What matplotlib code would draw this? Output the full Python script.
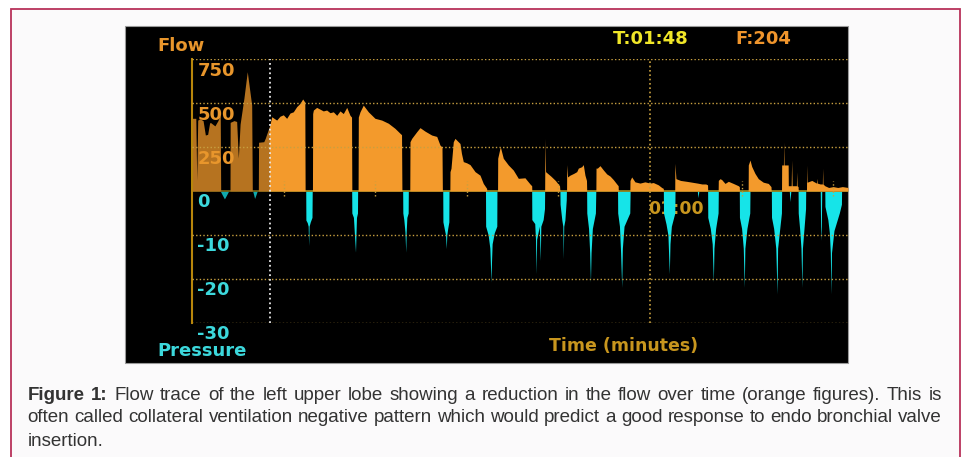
import matplotlib
matplotlib.use('Agg')
import matplotlib.pyplot as plt
from matplotlib.patches import Rectangle
from matplotlib.transforms import offset_copy

# flow trace (time in s, flow in ml/s)
flow_t = [0.0, 0.5, 0.62, 0.75, 1.05, 1.45, 1.75, 2.05, 2.3, 2.4, 3.0, 3.4, 3.7, 3.76,
          4.98, 5.0, 5.5, 5.85, 6.07, 6.3, 6.8, 7.24, 7.6, 7.82, 7.9,
          8.69, 8.72, 9.4, 9.6, 10.2, 10.44, 11.09, 11.53, 11.96, 12.4, 12.84, 13.27, 13.71, 14.15, 14.5, 14.78, 14.82,
          15.78, 15.81, 15.9, 16.33, 16.77, 17.2, 17.64, 18.08, 18.51, 18.96, 19.39, 19.82, 20.27, 20.7, 20.9, 20.94,
          21.76, 21.79, 22.01, 22.44, 23.1, 23.97, 24.85, 25.72, 26.59, 27.25, 27.45, 27.5,
          28.53, 28.56, 28.78, 29.44, 29.87, 30.53, 31.4, 32.06, 32.49, 32.75, 32.8,
          33.78, 33.8, 33.93, 34.23, 34.45, 35.11, 35.3, 35.54, 35.99, 36.42, 37.08, 37.73, 38.16, 38.6, 38.62,
          40.03, 40.05, 40.39, 40.78, 41.44, 42.09, 42.75, 43.62, 44.28, 44.5, 44.52,
          46.2, 46.24, 46.32, 47.0, 47.6, 48.15, 48.2,
          49.07, 49.09, 49.2, 49.52, 50.0, 50.4, 50.61, 51.05, 51.26, 51.48, 51.68, 51.71,
          52.91, 52.93, 53.1, 53.45, 53.88, 54.33, 54.76, 55.19, 55.64, 55.83, 55.85,
          57.36, 57.38, 57.6, 58.03, 58.69, 59.34, 60.0, 60.43, 61.09, 61.53, 61.74, 61.76,
          63.24, 63.26, 63.4, 64.0, 64.8, 65.5, 66.2, 66.8, 67.3, 67.54, 67.56,
          68.93, 68.95, 69.17, 69.39, 69.83, 70.26, 70.91, 71.57, 71.7, 71.72,
          72.86, 72.88, 73.1, 73.32, 73.75, 74.19, 74.84, 75.5, 75.85, 75.88,
          77.23, 77.25, 77.48, 77.52, 77.56, 78.1, 78.12, 78.5, 78.56, 78.62, 79.18, 79.22, 79.27, 79.4, 79.43,
          80.5, 80.53, 80.58, 81.2, 81.8, 81.84, 81.9, 82.3, 82.58, 82.62, 82.66, 82.9, 83.4, 84.0, 84.6, 85.2, 85.94]
flow_v = [413, 413, 62, 403, 410, 400, 318, 322, 385, 390, 370, 400, 432, 0,
          0, 390, 400, 395, 187, 380, 527, 678, 560, 488, 0,
          0, 277, 280, 300, 375, 422, 403, 425, 433, 413, 443, 450, 479, 498, 523, 505, 0,
          0, 440, 460, 475, 465, 455, 460, 445, 450, 430, 455, 440, 475, 430, 420, 0,
          0, 420, 450, 488, 450, 413, 403, 385, 356, 328, 320, 0,
          0, 280, 299, 337, 360, 340, 318, 310, 261, 250, 0,
          0, 110, 129, 280, 299, 270, 214, 167, 160, 150, 110, 90, 43, 15, 0,
          0, 186, 252, 186, 148, 119, 72, 75, 40, 30, 0,
          0, 299, 110, 85, 60, 30, 0,
          0, 150, 80, 90, 100, 110, 130, 138, 150, 90, 60, 0,
          0, 130, 130, 144, 120, 97, 85, 65, 40, 30, 0,
          0, 60, 80, 52, 45, 52, 45, 48, 35, 20, 15, 0,
          0, 157, 70, 60, 55, 50, 45, 40, 40, 35, 0,
          0, 60, 70, 65, 43, 55, 43, 30, 25, 0,
          0, 148, 176, 140, 100, 70, 50, 43, 25, 0,
          0, 148, 148, 280, 148, 148, 30, 30, 176, 30, 30, 110, 30, 25, 0,
          0, 148, 50, 60, 45, 72, 45, 40, 40, 130, 40, 30, 20, 25, 20, 25, 20]

# airway pressure (cmH2O)
pres_t = [0.0,
          3.7, 4.0, 4.25, 4.5, 4.8,
          7.95, 8.1, 8.2, 8.35, 8.55,
          14.9, 14.92, 15.1, 15.22, 15.28, 15.34, 15.5, 15.72, 15.75,
          20.92, 20.94, 21.15, 21.3, 21.42, 21.48, 21.55, 21.68, 21.7,
          27.6, 27.62, 27.75, 27.9, 28.0, 28.06, 28.15, 28.32, 28.34,
          32.85, 32.87, 33.1, 33.22, 33.31, 33.38, 33.5, 33.65, 33.67,
          38.45, 38.47, 38.8, 39.02, 39.1, 39.17, 39.24, 39.32, 39.6, 39.93, 39.95,
          44.5, 44.52, 44.9, 45.0, 45.08, 45.15, 45.5, 45.62, 45.7, 46.0, 46.18, 46.2,
          48.2, 48.22, 48.45, 48.58, 48.64, 48.7, 48.85, 49.03, 49.05,
          51.7, 51.72, 51.95, 52.1, 52.2, 52.28, 52.45, 52.85, 52.9,
          55.75, 55.77, 56.0, 56.15, 56.29, 56.38, 56.6, 57.35, 57.4,
          61.75, 61.77, 62.1, 62.35, 62.53, 62.62, 62.8, 63.25, 63.28,
          66.2, 66.29, 66.4,
          67.55, 67.57, 67.9, 68.15, 68.3, 68.38, 68.6, 68.92, 68.95,
          71.7, 71.72, 72.0, 72.22, 72.35, 72.43, 72.7, 73.07, 73.1,
          75.9, 75.92, 76.2, 76.48, 76.64, 76.72, 77.0, 77.22, 77.25,
          78.25, 78.34, 78.45,
          79.4, 79.42, 79.6, 79.78, 79.9, 79.97, 80.2, 80.38, 80.4,
          82.3, 82.35, 82.4, 82.45, 82.5,
          82.9, 82.92, 83.3, 83.5, 83.62, 83.71, 83.78, 84.1, 84.8, 85.08, 85.1, 85.94]
pres_v = [0,
          0, -1.0, -1.8, -1.0, 0,
          0, -1.0, -1.7, -1.0, 0,
          0, -6.6, -7.2, -8, -12.4, -8, -7, -6, 0,
          0, -5, -6, -10.5, -13.9, -10, -6, -5, 0,
          0, -5, -6.5, -9.3, -13.9, -9.3, -6, -5, 0,
          0, -7, -9, -10, -13.1, -10, -8.5, -7, 0,
          0, -8, -10, -13, -17, -20.7, -16, -12, -9.5, -8, 0,
          0, -6.5, -7.4, -11, -18.8, -11, -8, -15.8, -8, -6.5, -4, 0,
          0, -3, -6.6, -8, -15.4, -8, -6.6, -2, 0,
          0, -5, -8.5, -14, -20.7, -14, -8.5, -5, 0,
          0, -5, -8, -14, -21.9, -13, -8, -5, 0,
          0, -5, -7.5, -10, -18.8, -12, -8, -5, 0,
          0, -1.5, 0,
          0, -6, -8.5, -12, -20.7, -13, -8.5, -5, 0,
          0, -6, -8.5, -13, -21.9, -13, -8.5, -5, 0,
          0, -6, -8.5, -13, -23.4, -13, -8.5, -5, 0,
          0, -2.4, 0,
          0, -5, -8.5, -13, -21.9, -13, -8, -4, 0,
          0, -8, -11.2, -8, 0,
          0, -3.5, -6.5, -9.5, -14, -23.4, -14, -9, -5, -3, 0, 0]

flow_ticks = [750, 500, 250]
pres_ticks = [0, -10, -20, -30]
minor_marks = [12, 24, 36, 48, 72, 84]
minute_mark = 60
cursor_t = 10.22

caption = [
    [('Figure', 'bold'), ('1:', 'bold')] + [(w, 'normal') for w in
     'Flow trace of the left upper lobe showing a reduction in the flow over time (orange figures). This is'.split()],
    [(w, 'normal') for w in
     'often called collateral ventilation negative pattern which would predict a good response to endo bronchial valve'.split()],
]
caption_last = 'insertion.'

ORANGE = '#f39a2c'
CYAN = '#16e4e8'
GOLD = '#c8961e'
GRID = '#c8a040'

W, H = 963, 457
fig = plt.figure(figsize=(W / 100, H / 100), dpi=100, facecolor='white')

# background in pixel coordinates
bg = fig.add_axes([0, 0, 1, 1])
bg.set_xlim(0, W)
bg.set_ylim(H, 0)
bg.axis('off')
bg.add_patch(Rectangle((11, 9), 949, 470, facecolor='#fbfafb', edgecolor='#b8325a', lw=1.3))
bg.add_patch(Rectangle((125, 26), 723, 337, facecolor='black', edgecolor='#9a9a9a', lw=0.8))

mono = dict(family='DejaVu Sans', weight='bold')
bg.text(157, 46, 'Flow', color='#e8962c', fontsize=13, va='center', ha='left', **mono)
bg.text(157, 351.5, 'Pressure', color='#3cd8dc', fontsize=13, va='center', ha='left', **mono)
bg.text(613, 39, 'T:01:48', color='#f0e628', fontsize=13, va='center', ha='left', **mono)
bg.text(735, 39, 'F:204', color='#f0952c', fontsize=13, va='center', ha='left', **mono)
bg.text(624, 346, 'Time (minutes)', color=GOLD, fontsize=12.5, va='center', ha='center', **mono)

# caption, justified between the frame margins
cap = dict(family='Liberation Sans', fontsize=13.5, color='#333333', va='center', ha='left')
rend = fig.canvas.get_renderer()
x0, x1 = 27.7, 942
for words, y in zip(caption, [395, 418]):
    items = [bg.text(0, y, w, fontweight=wt, **cap) for w, wt in words]
    widths = [t.get_window_extent(renderer=rend).width for t in items]
    gap = (x1 - x0 - sum(widths)) / (len(items) - 1)
    x = x0
    for t, w in zip(items, widths):
        t.set_x(x)
        x += w + gap
bg.text(x0, 442, caption_last, **cap)

# data axes: flow (top layer) and pressure (twin)
ax = fig.add_axes([192 / W, (H - 323) / H, 656 / W, 264 / H])
axp = ax.twinx()
ax.set_zorder(axp.get_zorder() + 1)
ax.patch.set_visible(False)
axp.patch.set_visible(False)

ax.set_xlim(0, 85.94)
ax.set_ylim(-750, 750)
axp.set_ylim(-30, 30)
for a in (ax, axp):
    a.set_xticks([])
    a.set_yticks([])
    for s in a.spines.values():
        s.set_visible(False)
ax.spines['left'].set_visible(True)
ax.spines['left'].set_color('#b8860b')
ax.spines['left'].set_linewidth(1.5)

ax.axhline(0, color='#a08c1e', lw=1.2, zorder=1)
ax.fill_between(flow_t, 0, flow_v, color=ORANGE, lw=0, zorder=2)
axp.fill_between(pres_t, 0, pres_v, color=CYAN, lw=0, zorder=2)
axp.text(minute_mark - 0.25, -4.1, '01:00', color=GOLD, fontsize=12.5, va='center', ha='left',
         zorder=1, **mono)

# dimmed part before the cursor
ax.axvspan(0, cursor_t, color='black', alpha=0.25, lw=0, zorder=2.5)

dot = (0, (1, 1.6))
for v in flow_ticks + [-250, -500, -750]:
    ax.axhline(v, color=GRID, lw=1, ls=dot, zorder=3)
ax.axvline(cursor_t, color='#e8e8e8', lw=1.3, ls=dot, zorder=3)
ax.axvline(minute_mark, color=GRID, lw=1.2, ls=dot, zorder=3)
ax.vlines(minor_marks, -30, 55, colors=GRID, lw=1, linestyles=dot, zorder=3)

lab_f = offset_copy(ax.get_yaxis_transform(), fig=fig, x=6, y=-12, units='dots')
for v in flow_ticks:
    ax.text(0, v, str(v), transform=lab_f, color='#e8962c', fontsize=13, va='center', ha='left',
            zorder=4, **mono)
lab_p = offset_copy(axp.get_yaxis_transform(), fig=fig, x=5, y=-11, units='dots')
for v in pres_ticks:
    ax.text(0, v, str(v), transform=lab_p, color='#3cd8dc', fontsize=13, va='center', ha='left',
            zorder=4, clip_on=False, **mono)

fig.savefig('out.png', dpi=100, facecolor=fig.get_facecolor())
